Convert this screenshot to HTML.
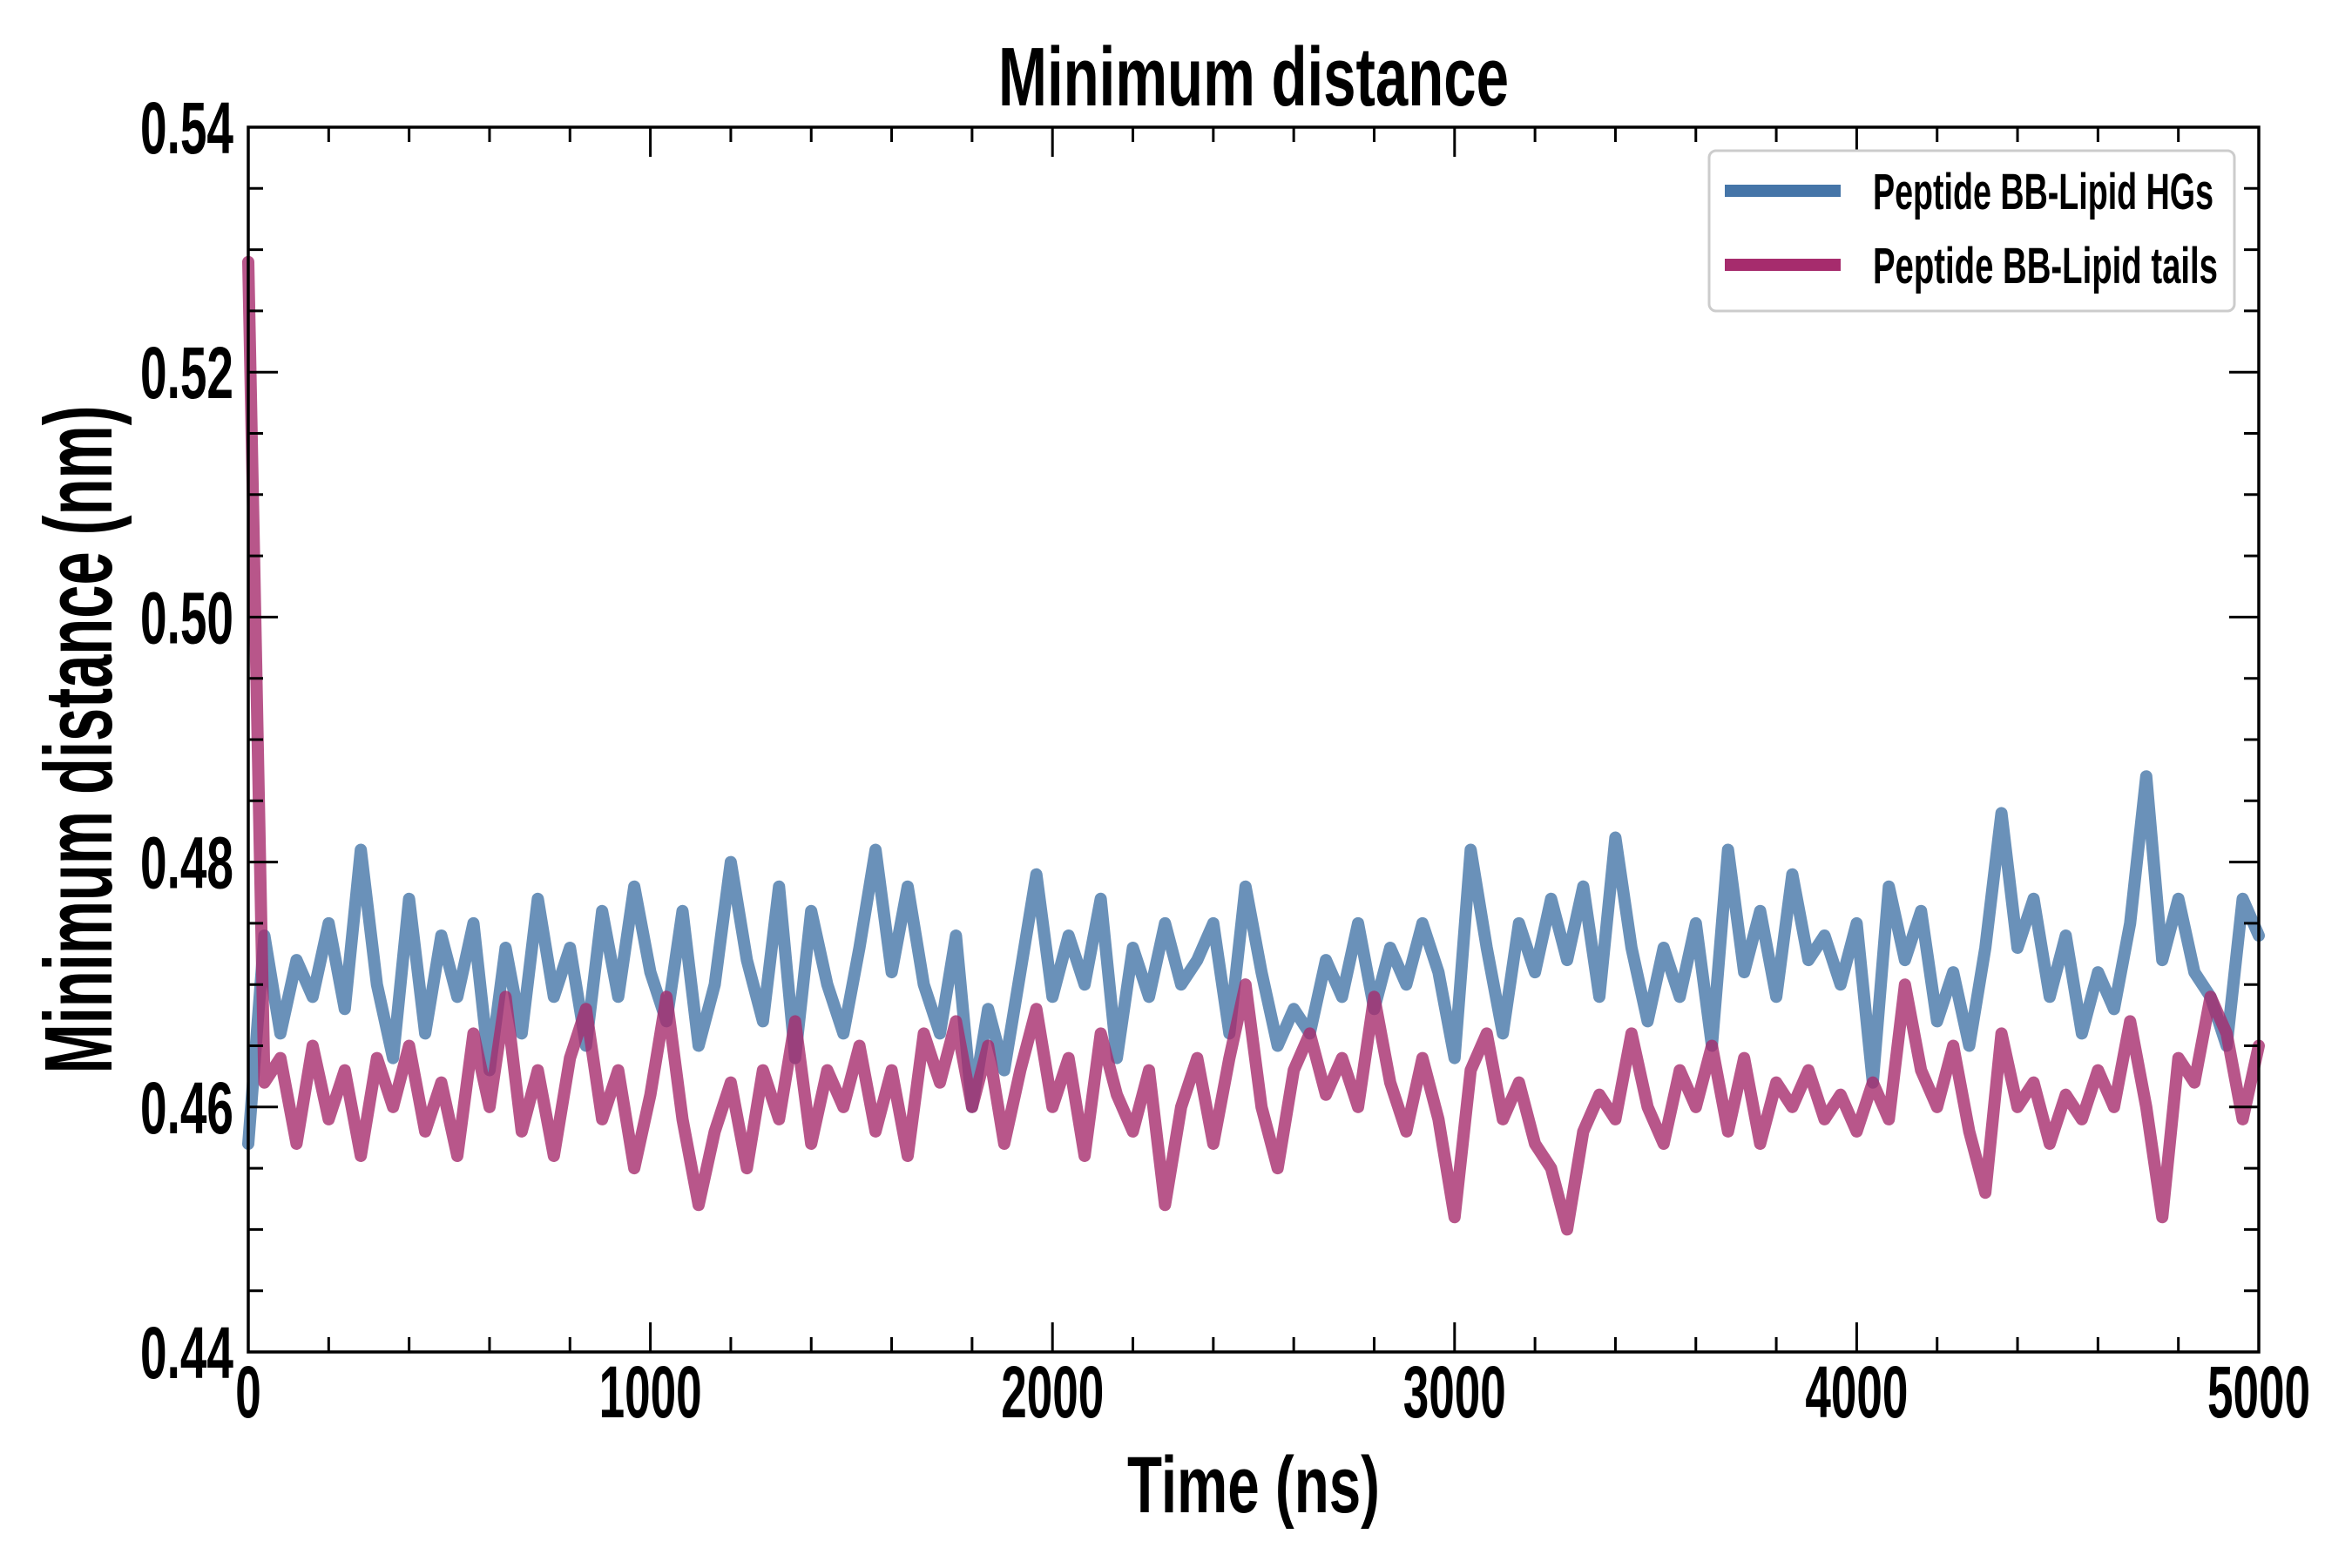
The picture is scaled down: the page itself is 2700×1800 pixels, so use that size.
<!DOCTYPE html>
<html><head><meta charset="utf-8"><style>
html,body{margin:0;padding:0;background:#fff;}
svg{display:block;}
text{font-family:"Liberation Sans Narrow","Liberation Sans",sans-serif;font-weight:bold;fill:#000;}
</style></head><body>
<svg id="chart" width="2700" height="1800" viewBox="0 0 2700 1800">
<rect x="0" y="0" width="2700" height="1800" fill="#fff"/>
<g id="series"></g>
<g id="axes"></g>
<text x="1439" y="121" text-anchor="middle" font-size="96" textLength="586" lengthAdjust="spacingAndGlyphs">Minimum distance</text>
<text x="1439" y="1736" text-anchor="middle" font-size="92" textLength="290" lengthAdjust="spacingAndGlyphs">Time (ns)</text>
<text transform="translate(128,849) rotate(-90)" x="0" y="0" text-anchor="middle" font-size="110" textLength="767" lengthAdjust="spacingAndGlyphs">Minimum distance (nm)</text>
<g>
<rect x="1962" y="173" width="603" height="184" rx="8" ry="8" fill="#fff" stroke="#cccccc" stroke-width="3"/>
<line x1="1980" y1="219" x2="2113" y2="219" stroke="#4575a8" stroke-width="14"/>
<text x="2150" y="240" font-size="58" textLength="391" lengthAdjust="spacingAndGlyphs">Peptide BB-Lipid HGs</text>
<line x1="1980" y1="304" x2="2113" y2="304" stroke="#a62c6d" stroke-width="14"/>
<text x="2150" y="325" font-size="58" textLength="396" lengthAdjust="spacingAndGlyphs">Peptide BB-Lipid tails</text>
</g>
</svg>
<script>
const timeStep = 40;
const hgValues = [
0.457,0.474,0.466,0.472,0.469,0.475,0.468,0.481,0.470,0.464,
0.477,0.466,0.474,0.469,0.475,0.463,0.473,0.466,0.477,0.469,
0.473,0.465,0.476,0.469,0.478,0.471,0.467,0.476,0.465,0.470,
0.480,0.472,0.467,0.478,0.464,0.476,0.470,0.466,0.473,0.481,
0.471,0.478,0.470,0.466,0.474,0.460,0.468,0.463,0.471,0.479,
0.469,0.474,0.470,0.477,0.464,0.473,0.469,0.475,0.470,0.472,
0.475,0.466,0.478,0.471,0.465,0.468,0.466,0.472,0.469,0.475,
0.468,0.473,0.470,0.475,0.471,0.464,0.481,0.473,0.466,0.475,
0.471,0.477,0.472,0.478,0.469,0.482,0.473,0.467,0.473,0.469,
0.475,0.465,0.481,0.471,0.476,0.469,0.479,0.472,0.474,0.470,
0.475,0.462,0.478,0.472,0.476,0.467,0.471,0.465,0.473,0.484,
0.473,0.477,0.469,0.474,0.466,0.471,0.468,0.475,0.487,0.472,
0.477,0.471,0.469,0.465,0.477,0.474];
const tailValues = [
0.529,0.462,0.464,0.457,0.465,0.459,0.463,0.456,0.464,0.460,
0.465,0.458,0.462,0.456,0.466,0.460,0.469,0.458,0.463,0.456,
0.464,0.468,0.459,0.463,0.455,0.461,0.469,0.459,0.452,0.458,
0.462,0.455,0.463,0.459,0.467,0.457,0.463,0.460,0.465,0.458,
0.463,0.456,0.466,0.462,0.467,0.460,0.465,0.457,0.463,0.468,
0.460,0.464,0.456,0.466,0.461,0.458,0.463,0.452,0.460,0.464,
0.457,0.464,0.470,0.460,0.455,0.463,0.466,0.461,0.464,0.460,
0.469,0.462,0.458,0.464,0.459,0.451,0.463,0.466,0.459,0.462,
0.457,0.455,0.450,0.458,0.461,0.459,0.466,0.460,0.457,0.463,
0.460,0.465,0.458,0.464,0.457,0.462,0.460,0.463,0.459,0.461,
0.458,0.462,0.459,0.470,0.463,0.460,0.465,0.458,0.453,0.466,
0.460,0.462,0.457,0.461,0.459,0.463,0.460,0.467,0.460,0.451,
0.464,0.462,0.469,0.466,0.459,0.465];
const xTickValues = [0,1000,2000,3000,4000,5000];
const xTickLabels = ["0","1000","2000","3000","4000","5000"];
const yTickValues = [0.44,0.46,0.48,0.50,0.52,0.54];
const yTickLabels = ["0.44","0.46","0.48","0.50","0.52","0.54"];

const L=285,R=2593,T=146,B=1552, XMIN=0,XMAX=5000,YMIN=0.44,YMAX=0.54;
const NS="http://www.w3.org/2000/svg";
function sx(v){return L+(v-XMIN)/(XMAX-XMIN)*(R-L);}
function sy(v){return B-(v-YMIN)/(YMAX-YMIN)*(B-T);}
function mk(tag,attrs){const e=document.createElementNS(NS,tag);for(const k in attrs)e.setAttribute(k,attrs[k]);return e;}
const series=document.getElementById('series');
const axes=document.getElementById('axes');

function drawLine(vals,color,name){
  const pts=vals.map((v,i)=>{const t=Math.min(i*timeStep,XMAX);return sx(t).toFixed(1)+','+sy(v).toFixed(1);}).join(' ');
  const pl=mk('polyline',{points:pts,fill:'none',stroke:color,'stroke-width':14,'stroke-linejoin':'round','stroke-linecap':'round','stroke-opacity':0.8});
  
  
  series.appendChild(pl);
}
drawLine(hgValues,'#4575a8','line-peptide-bb-lipid-hgs');
drawLine(tailValues,'#a62c6d','line-peptide-bb-lipid-tails');

const frame=mk('rect',{x:L,y:T,width:R-L,height:B-T,fill:'none',stroke:'#000','stroke-width':3.5});


axes.appendChild(frame);

for(let t=0;t<=5000;t+=200){
  const major=(t%1000===0), len=major?34:17, x=sx(t);
  [[B,B-len],[T,T+len]].forEach(([a,b])=>{
    const tk=mk('line',{x1:x,y1:a,x2:x,y2:b,stroke:'#000','stroke-width':3});
    
    
    axes.appendChild(tk);
  });
}
for(let k=0;k<=20;k++){
  const v=YMIN+k*0.005, major=(k%4===0), len=major?34:17, y=sy(v);
  [[L,L+len],[R,R-len]].forEach(([a,b])=>{
    const tk=mk('line',{x1:a,y1:y,x2:b,y2:y,stroke:'#000','stroke-width':3});
    
    
    axes.appendChild(tk);
  });
}
xTickValues.forEach((v,i)=>{
  const lab=xTickLabels[i];
  const tx=mk('text',{x:sx(v),y:1627,'text-anchor':'middle','font-size':84,textLength:lab.length*29.5,lengthAdjust:'spacingAndGlyphs'});
  tx.textContent=lab;
  
  
  axes.appendChild(tx);
});
yTickValues.forEach((v,i)=>{
  const lab=yTickLabels[i];
  const tx=mk('text',{x:268,y:sy(v)+30,'text-anchor':'end','font-size':84,textLength:107,lengthAdjust:'spacingAndGlyphs'});
  tx.textContent=lab;
  
  
  axes.appendChild(tx);
});
</script>
</body></html>
